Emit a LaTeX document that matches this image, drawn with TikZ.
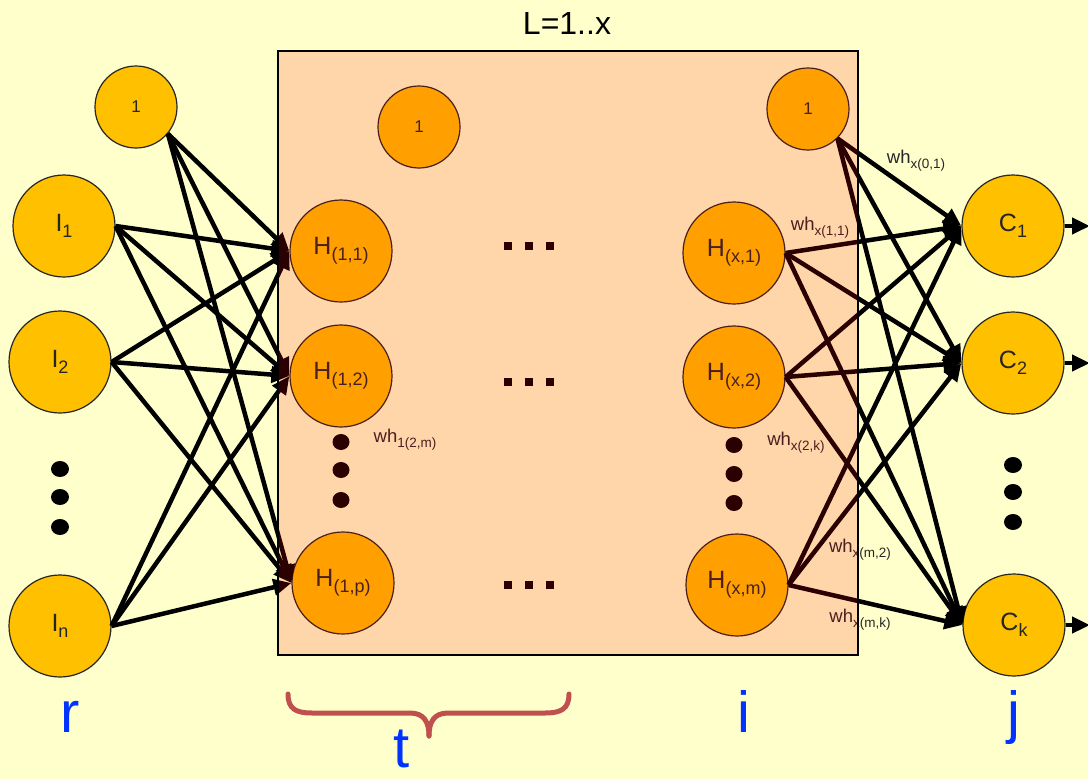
\documentclass[tikz,border=0pt]{standalone}
\usepackage{fontspec}
\setmainfont{Liberation Sans}
\usetikzlibrary{arrows.meta}
\definecolor{bgy}{HTML}{FFFFCC}
\definecolor{nodey}{HTML}{FFC000}
\definecolor{bluel}{HTML}{0033FF}
\definecolor{bracec}{HTML}{C0504D}
\newcommand\nsub[1]{\raisebox{-6pt}{\fontsize{18}{18}\selectfont #1}}
\newcommand\wsub[1]{\raisebox{-5pt}{\fontsize{13.5}{13.5}\selectfont #1}}
\begin{document}
\begin{tikzpicture}[x=1pt,y=-1pt,
  neuron/.style={circle,draw=black!85,line width=1.2pt,fill=nodey,minimum size=102pt,inner sep=0pt,text=black!85,font=\fontsize{25}{25}\selectfont},
  biasn/.style={neuron,minimum size=82pt,font=\fontsize{17}{17}\selectfont},
  conn/.style={line width=4.5pt,-{Triangle[length=18pt,width=16pt]}},
  wlab/.style={font=\fontsize{18.5}{18.5}\selectfont,text=black!85,inner sep=0pt},
  vdot/.style={fill=black},
  hdot/.style={fill=black},
  letter/.style={font=\fontsize{58}{58}\selectfont,text=bluel,inner sep=0pt,anchor=base}]
\useasboundingbox (0,0) rectangle (1088,779);
\clip (0,0) rectangle (1088,779);
\fill[bgy] (0,0) rectangle (1088,779);

% input layer
\node[biasn] (b0) at (136,107) {1};
\node[neuron] (I1) at (64,226) {I\nsub{1}};
\node[neuron] (I2) at (60,362) {I\nsub{2}};
\node[neuron] (In) at (60,626) {I\nsub{n}};
\foreach \y in {469,497,527} \fill[vdot] (60,\y) ellipse[x radius=9pt,y radius=8pt];

% first hidden layer
\node[biasn] (b1) at (419,127) {1};
\node[neuron] (H11) at (341,251) {H\nsub{(1,1)}};
\node[neuron] (H12) at (341,376) {H\nsub{(1,2)}};
\node[neuron] (H1p) at (343,583) {H\nsub{(1,p)}};
\foreach \y in {442,470,500} \fill[vdot] (341,\y) ellipse[x radius=8.5pt,y radius=8pt];

% last hidden layer
\node[biasn] (bR) at (808,109) {1};
\node[neuron] (Hx1) at (734,253) {H\nsub{(x,1)}};
\node[neuron] (Hx2) at (734,377) {H\nsub{(x,2)}};
\node[neuron] (Hxm) at (737,585) {H\nsub{(x,m)}};
\foreach \y in {445,474,503} \fill[vdot] (734,\y) ellipse[x radius=8.5pt,y radius=8pt];

% horizontal ellipses
\foreach \y in {246,382,585} \foreach \x in {508,529,550}
  \fill[hdot] (\x-4,\y-4) rectangle (\x+4,\y+4);

% output layer
\node[neuron] (C1) at (1013,226) {C\nsub{1}};
\node[neuron] (C2) at (1013,363) {C\nsub{2}};
\node[neuron] (Ck) at (1014,625) {C\nsub{k}};
\foreach \y in {465,492,522} \fill[vdot] (1013,\y) ellipse[x radius=9pt,y radius=8pt];
\coordinate (o1) at (1090,226);
\coordinate (o2) at (1090,363);
\coordinate (ok) at (1090,625);

% connections
\foreach \s/\a in {b0/-40,I1/0,I2/0,In/0}
  \foreach \t in {H11,H12,H1p}
    \draw[conn] (\s.\a) -- (\t.west);
\foreach \s/\a in {bR/-45,Hx1/0,Hx2/0,Hxm/0}
  \foreach \t in {C1,C2,Ck}
    \draw[conn] (\s.\a) -- (\t.west);
\draw[conn] (C1.east) -- (o1);
\draw[conn] (C2.east) -- (o2);
\draw[conn] (Ck.east) -- (ok);

% weight labels
\node[wlab] (w12m) at (405,440) {wh\wsub{1(2,m)}};
\node[wlab] (wx01) at (916,161) {wh\wsub{x(0,1)}};
\node[wlab] (wx11) at (820,228) {wh\wsub{x(1,1)}};
\node[wlab] (wx2k) at (796,443) {wh\wsub{x(2,k)}};
\node[wlab] (wxm2) at (860,550) {wh\wsub{x(m,2)}};
\node[wlab] (wxmk) at (860,620) {wh\wsub{x(m,k)}};

% layer box overlay
\fill[red,opacity=0.165] (278,51) rectangle (858,655);
\draw[black,line width=1.2pt] (278,51) rectangle (858,655);

% title
\node[font=\fontsize{32}{32}\selectfont,inner sep=0pt] (title) at (567,23) {L=1..x};

% brace
\draw[bracec,line width=5pt,line cap=round]
  (288,694) .. controls (288,709) and (296,713) .. (312,713) -- (410,713)
  .. controls (424,713) and (429,722) .. (429,736);
\draw[bracec,line width=5pt,line cap=round]
  (569,694) .. controls (569,709) and (561,713) .. (545,713) -- (448,713)
  .. controls (434,713) and (429,722) .. (429,736);

% letters
\node[letter] (lr) at (70,732) {r};
\node[letter] (lt) at (402,767) {t};
\node[letter] (li) at (744,732) {i};
\node[letter] (lj) at (1014,732) {j};
\end{tikzpicture}
\end{document}
